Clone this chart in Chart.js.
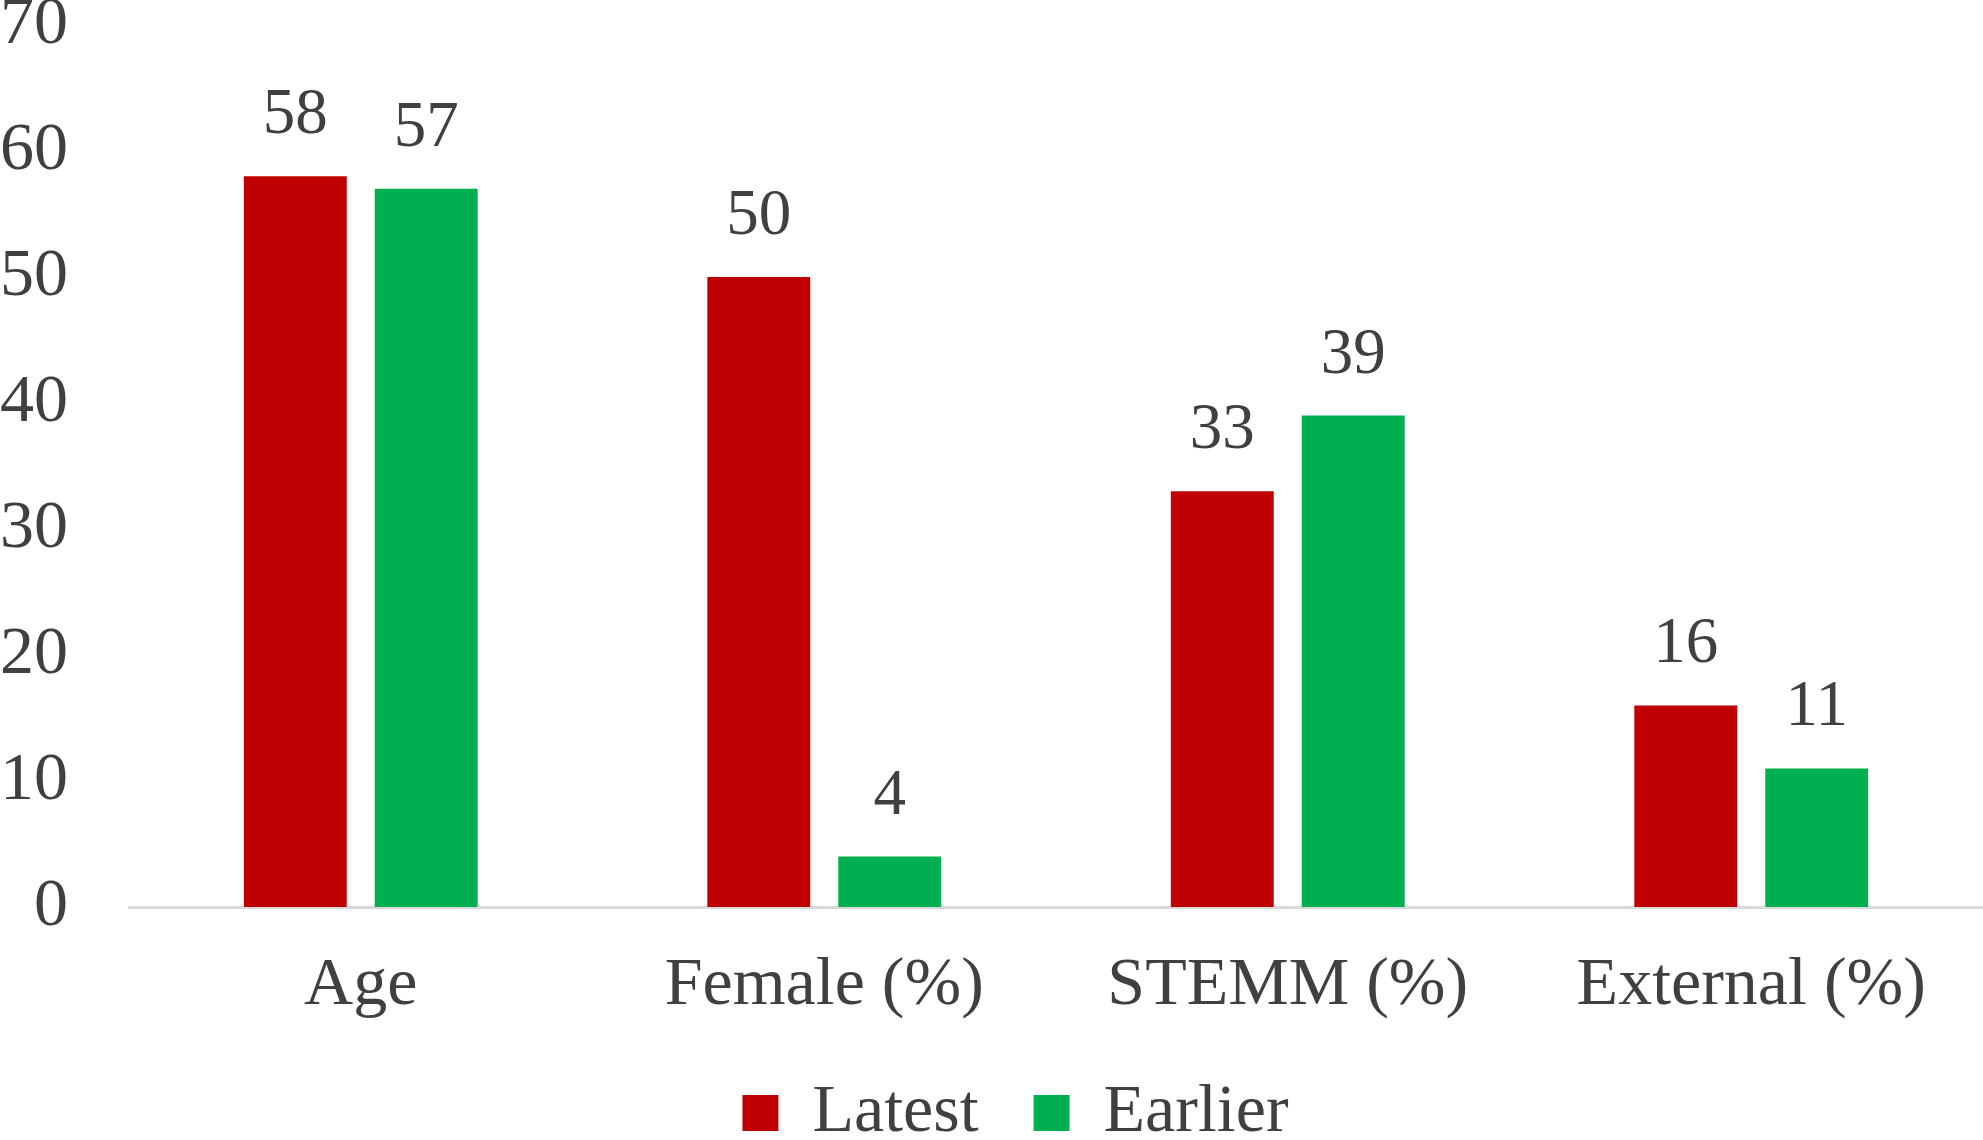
<!DOCTYPE html>
<html>
<head>
<meta charset="utf-8">
<script src="https://cdn.jsdelivr.net/npm/chart.js@4.4.0/dist/chart.umd.min.js"></script>
<style>
  html, body { margin: 0; padding: 0; background: #ffffff; overflow: hidden; }
  #wrap { position: absolute; left: 0; top: -9px; width: 1983px; height: 1166px; }
</style>
</head>
<body>
<div id="wrap"><canvas id="c"></canvas></div>
<script>
const categories = ["Age", "Female (%)", "STEMM (%)", "External (%)"];
const latestValues = [58, 50, 33, 16];
const earlierValues = [57, 4, 39, 11];
const seriesNames = ["Latest", "Earlier"];
const yTicks = [0, 10, 20, 30, 40, 50, 60, 70];

const FONT = "'Liberation Serif', 'Times New Roman', serif";
const TEXT = "#404040";

const valueLabels = {
  id: "valueLabels",
  afterDatasetsDraw(chart) {
    const ctx = chart.ctx;
    ctx.save();
    ctx.font = "65px " + FONT;
    ctx.fillStyle = TEXT;
    ctx.textAlign = "center";
    ctx.textBaseline = "alphabetic";
    chart.data.datasets.forEach((ds, i) => {
      const meta = chart.getDatasetMeta(i);
      meta.data.forEach((bar, j) => {
        ctx.fillText(String(ds.data[j]), bar.x, bar.y - 43);
      });
    });
    ctx.restore();
  }
};

const legendShift = {
  id: "legendShift",
  afterLayout(chart) {
    if (chart.legend) { chart.legend.left += 24; chart.legend.right += 24; }
  }
};

new Chart(document.getElementById("c"), {
  type: "bar",
  data: {
    labels: categories,
    datasets: [
      { label: seriesNames[0], data: latestValues, backgroundColor: "#C00000", borderWidth: 0 },
      { label: seriesNames[1], data: earlierValues, backgroundColor: "#00B050", borderWidth: 0 }
    ]
  },
  options: {
    responsive: true,
    maintainAspectRatio: false,
    animation: false,
    layout: { padding: { left: 0, right: 0, top: 0, bottom: 0 } },
    datasets: { bar: { categoryPercentage: 0.565, barPercentage: 0.786 } },
    scales: {
      x: {
        grid: { display: false, drawTicks: true, tickLength: 41 },
        border: { display: true, color: "#d9d9d9", width: 3 },
        ticks: { color: TEXT, font: { family: FONT, size: 68, lineHeight: 1 }, padding: 4, maxRotation: 0 }
      },
      y: {
        min: 0, max: 70,
        afterBuildTicks(scale) { scale.ticks = yTicks.map(v => ({ value: v })); },
        grid: { display: false, drawTicks: true, tickLength: 61 },
        border: { display: false },
        ticks: { color: TEXT, font: { family: FONT, size: 68, lineHeight: 1 }, padding: 0 }
      }
    },
    plugins: {
      legend: {
        position: "bottom",
        labels: { color: TEXT, font: { family: FONT, size: 68 }, boxWidth: 36, boxHeight: 36, padding: 55 }
      },
      tooltip: { enabled: false }
    }
  },
  plugins: [valueLabels, legendShift]
});
</script>
</body>
</html>
